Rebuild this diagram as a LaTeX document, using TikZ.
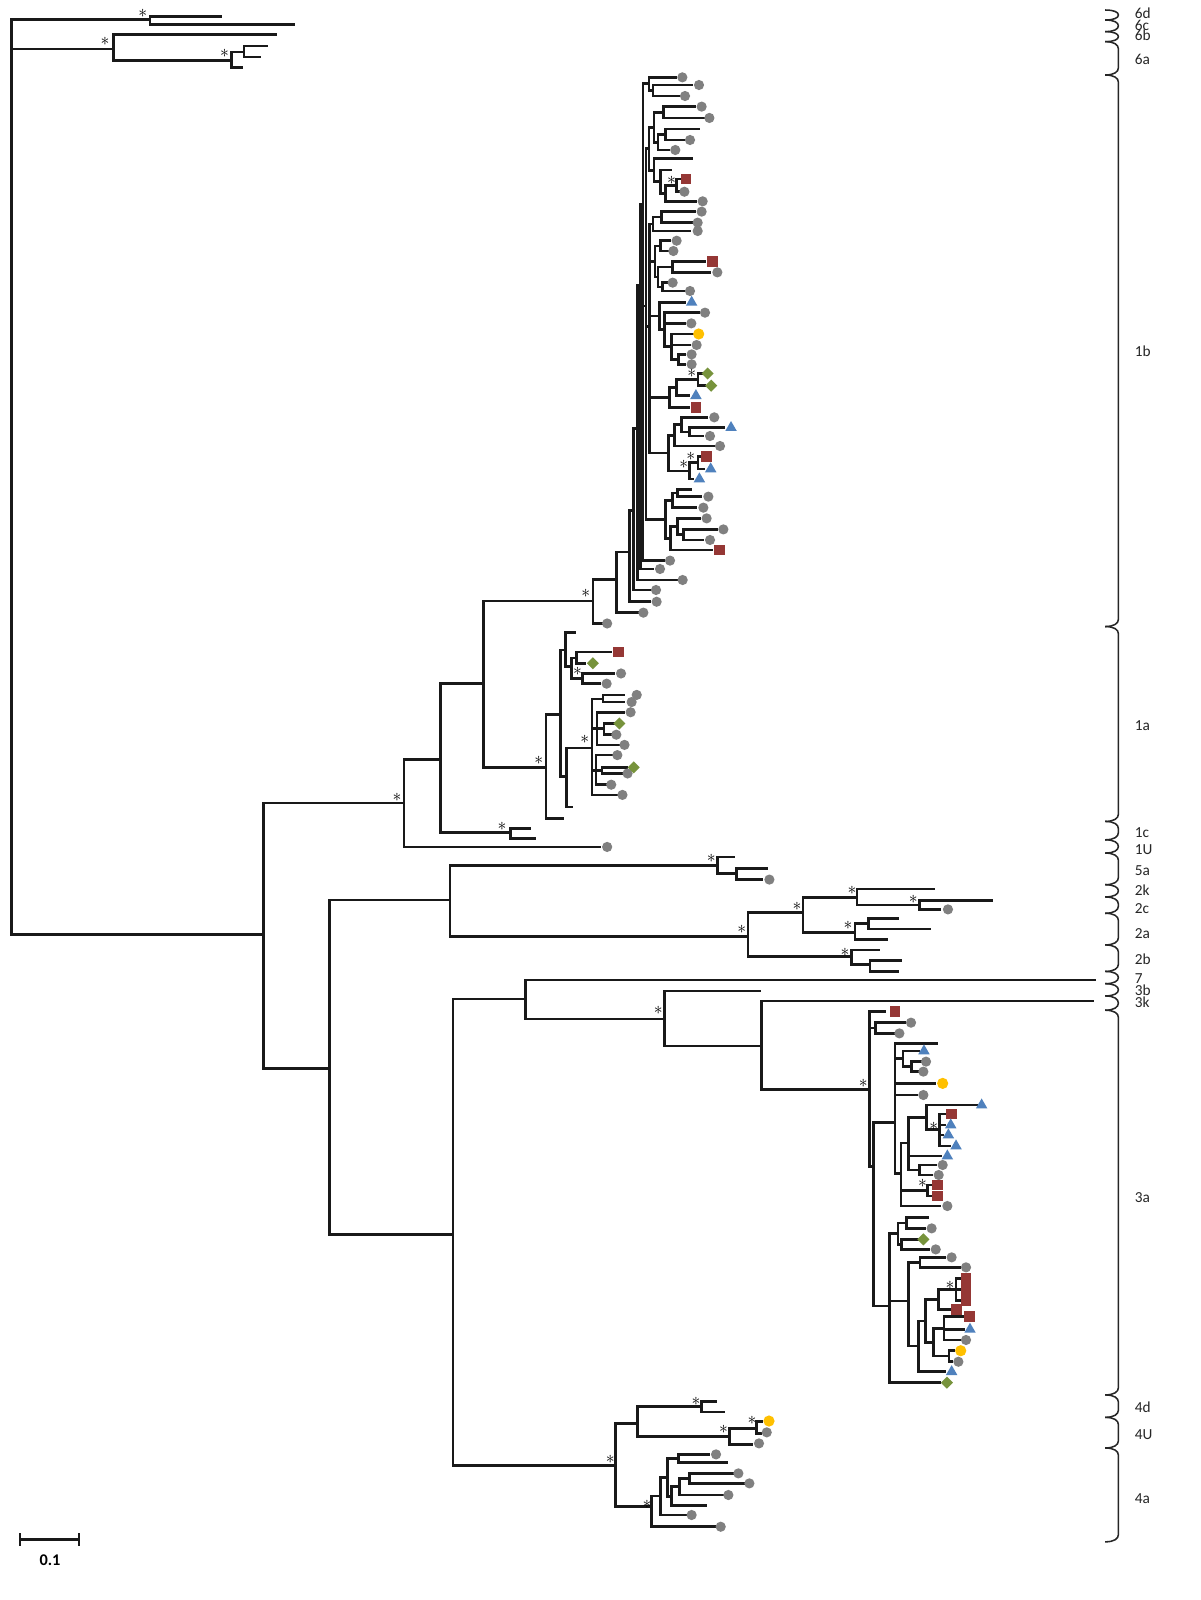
\documentclass[tikz,border=0pt]{standalone}
\usepackage{fontspec}
\setmainfont{Carlito}
\usepackage{tikz}
\usetikzlibrary{shapes.geometric}
\definecolor{treeline} {RGB}{25,  25,  25}
\definecolor{symgrey}  {RGB}{128, 128, 128}
\definecolor{symred}   {RGB}{149,  55,  53}
\definecolor{symblue}  {RGB}{ 79, 129, 189}
\definecolor{symgreen} {RGB}{119, 147,  60}
\definecolor{symyellow}{RGB}{255, 192,   0}
\tikzset{
  branch/.style={line width=2.6pt, draw=treeline, line cap=rect},
  bracket/.style={line width=1.5pt, draw=black!85},
  greydot/.style={circle, fill=symgrey, minimum size=10pt, inner sep=0pt},
  yellowdot/.style={circle, fill=symyellow, minimum size=11pt, inner sep=0pt},
  redsq/.style={rectangle, fill=symred, minimum size=10.5pt, inner sep=0pt},
  bluetri/.style={regular polygon, regular polygon sides=3, fill=symblue,
    minimum size=13pt, inner sep=0pt},
  greendia/.style={diamond, fill=symgreen, minimum size=12pt, inner sep=0pt},
  boot/.style={inner sep=0pt, font=\fontsize{18}{18}\selectfont},
  cladelab/.style={anchor=west, inner sep=0pt, text=black!85,
    font=\fontsize{15}{15}\selectfont},
}

\begin{document}
\begin{tikzpicture}[x=1pt, y=-1pt]
\fill[white] (0,0) rectangle (1176,1568);
\useasboundingbox (0,0) rectangle (1176,1568);

% ── Genotype 6 and root ───────────────────────────────────────────────────────
\foreach \x/\ya/\yb in {11/19/916, 147/16/24, 111/34/59, 227/51/66, 239/45/56}
  \draw[branch] (\x,\ya) -- (\x,\yb);
\foreach \y/\xa/\xb in {19/11/147, 16/147/216, 24/147/288, 48/11/111, 34/111/270,
    59/111/227, 51/227/239, 45/239/261, 56/239/254, 66/227/237}
  \draw[branch] (\xa,\y) -- (\xb,\y);

% ── Backbone ──────────────────────────────────────────────────────────────────
\foreach \x/\ya/\yb in {258/787/1047, 396/744/830, 432/670/816, 474/589/752,
    323/882/1210, 441/848/918, 444/979/1436}
  \draw[branch] (\x,\ya) -- (\x,\yb);
\foreach \y/\xa/\xb in {916/11/258, 787/258/396, 744/396/432, 670/432/474,
    1047/258/323, 882/323/441, 1210/323/444}
  \draw[branch] (\xa,\y) -- (\xb,\y);

% ── 1c and 1U ─────────────────────────────────────────────────────────────────
\draw[branch] (500,812) -- (500,822);
\foreach \y/\xa/\xb in {816/432/500, 812/500/519, 822/500/524, 830/396/588}
  \draw[branch] (\xa,\y) -- (\xb,\y);

% ── 1a ────────────────────────────────────────────────────────────────────────
\foreach \x/\ya/\yb in {535/700/802, 549/637/761, 554/620/653, 560/645/665,
    565/639/650, 571/660/670, 555/733/791, 580/685/779, 591/681/688,
    585/698/730, 592/709/720, 584/740/769, 590/752/758}
  \draw[branch] (\x,\ya) -- (\x,\yb);
\foreach \y/\xa/\xb in {752/474/535, 802/535/551, 700/535/549, 637/549/554,
    620/554/563, 653/554/560, 645/560/565, 639/565/598, 650/565/573,
    665/560/571, 660/571/601, 670/571/588, 761/549/555, 791/555/560,
    733/555/580, 685/580/591, 681/591/611, 688/591/611, 714/580/592,
    698/585/611, 730/585/606, 709/592/601, 720/592/598, 755/580/590,
    740/584/599, 769/584/594, 752/590/614, 758/590/609, 779/580/604}
  \draw[branch] (\xa,\y) -- (\xb,\y);

% ── 1b ────────────────────────────────────────────────────────────────────────
\foreach \x/\ya/\yb in {581/568/611, 604/541/600.4, 617/500/589.7,
    621/420/578.2, 625/280/568.4, 627.5/200/557.6, 630/82/549.4,
    636/75.8/88.7, 640/83.3/94.1, 633/145.6/509, 636/124.7/166.8,
    641/110/139.4, 650/104.5/115.6, 645/131.8/147, 652/126.4/137.2,
    641/155.5/178, 647/166.6/189.5, 652/181.6/197.3, 663/175.4/187.9,
    636.5/219.6/444, 640/212.8/226.4, 648/207.4/218.2,
    642/241/271.3, 647/235.9/246, 645/261.5/281.1, 659/256.1/266.9,
    649/277/285.2, 646/296.3/323, 651/306.4/339.7, 658/327.3/352.2,
    665/347.3/357, 656/380/399.2, 663/372/387.8, 684/366/378,
    655/426.5/461.5, 661/416/437.1, 668/409/423.2, 676/419.1/427.3,
    676/453.5/469.4, 684/447.5/459.6, 652/490.3/527.5, 659/483.2/497.5,
    664/479.6/486.7, 657/516/539, 664/508/524, 670/518.8/529.2}
  \draw[branch] (\x,\ya) -- (\x,\yb);
\foreach \y/\xa/\xb in {589/474/581, 568/581/604, 611/581/590, 541/604/617,
    600.4/604/625, 500/617/621, 589.7/617/637, 420/621/625, 578.2/621/637,
    280/625/627.5, 568.4/625/663, 200/627.5/630, 557.6/627.5/640,
    82/630/636, 300/630/633, 549.4/630/650,
    75.8/636/662.5, 88.7/636/640, 83.3/640/677.8, 94.1/640/664.8,
    145.6/633/636, 320/633/636.5, 509/633/652, 124.7/636/641, 166.8/636/641,
    110/641/650, 139.4/641/645, 104.5/650/681, 115.6/650/689.3,
    131.8/645/652, 147/645/655, 126.4/652/685, 137.2/652/669.7,
    155.5/641/677.8, 178/641/647, 166.6/647/657.6, 189.5/647/652,
    181.6/652/663, 197.3/652/682, 175.4/663/666, 187.9/663/665,
    219.6/636.5/640, 256/636.5/642, 309.6/636.5/646, 389.6/636.5/656,
    444/636.5/655, 212.8/640/648, 226.4/640/676.2, 207.4/648/681,
    218.2/648/677.8, 241/642/647, 271.3/642/645, 235.9/647/656.6,
    246/647/654.3, 261.5/645/659, 281.1/645/649, 256.1/659/690.9,
    266.9/659/695.8, 277/649/653.3, 285.2/649/669.7,
    296.3/646/671.3, 323/646/651, 306.4/651/684.4, 316.9/651/671.3,
    339.7/651/658, 327.3/658/678.5, 338.1/658/676.2, 352.2/658/665,
    347.3/665/671.3, 357/665/671.3, 380/656/663, 399.2/656/675,
    372/663/684, 387.8/663/675, 366/684/689, 378/684/691,
    426.5/655/661, 461.5/655/676, 416/661/668, 437.1/661/699,
    409/668/693, 423.2/668/676, 419.1/676/709, 427.3/676/689,
    453.5/676/684, 469.4/676/679, 447.5/684/687, 459.6/684/690,
    490.3/652/659, 527.5/652/657, 483.2/659/664, 497.5/659/682,
    479.6/664/676.9, 486.7/664/687, 516/657/664, 539/657/697,
    508/664/686, 524/664/670, 518.8/670/702, 529.2/670/689}
  \draw[branch] (\xa,\y) -- (\xb,\y);

% ── 5a and genotype 2 ─────────────────────────────────────────────────────────
\foreach \x/\ya/\yb in {703/840/856, 722/851/862, 733/894.5/937.5,
    787/879.4/914, 840/871.2/887, 901/882.7/891.2, 838/905/921,
    851/900/910.5, 834.5/931/945, 852.5/941/952}
  \draw[branch] (\x,\ya) -- (\x,\yb);
\foreach \y/\xa/\xb in {848/441/703, 840/703/719, 856/703/722, 851/722/751,
    862/722/746, 918/441/733, 894.5/733/787, 879.4/787/840, 871.2/840/915,
    887/840/901, 882.7/901/971.4, 891.2/901/921, 914/787/838, 905/838/851,
    900/851/879.5, 910.5/851/910.6, 921/838/869, 937.5/733/834.5,
    931/834.5/861, 945/834.5/852.5, 941/852.5/883, 952/852.5/880}
  \draw[branch] (\xa,\y) -- (\xb,\y);

% ── 7, 3b, 3k ─────────────────────────────────────────────────────────────────
\foreach \x/\ya/\yb in {515/960.4/998.5, 651/971/1025, 746/981/1068}
  \draw[branch] (\x,\ya) -- (\x,\yb);
\foreach \y/\xa/\xb in {979/444/515, 960.4/515/1073, 998.5/515/651,
    971/651/744, 1025/651/746, 981/746/1071, 1068/746/852}
  \draw[branch] (\xa,\y) -- (\xb,\y);

% ── 3a ────────────────────────────────────────────────────────────────────────
\foreach \x/\ya/\yb in {852/991.4/1143.4, 858/1002.2/1012.7, 856/1100/1280,
    877/1022.5/1150, 885/1030/1045.3, 893/1040.4/1050.2, 883/1120/1181.9,
    890/1095/1146.6, 908/1083/1107, 921/1091.7/1123.1, 901/1141.7/1151.5,
    909/1161.3/1172.1, 872/1209/1355, 880/1198.4/1219.5, 888.5/1193/1203.8,
    883.6/1214.6/1224.4, 890/1237.1/1319, 901.6/1232.2/1242,
    900/1294.5/1344.3, 907/1273.5/1315.5, 920/1263.7/1283.2,
    937/1252.8/1274.7, 915/1302/1329, 925/1290.3/1313.2, 930/1323.7/1334.5}
  \draw[branch] (\x,\ya) -- (\x,\yb);
\foreach \y/\xa/\xb in {991.4/852/867, 1007.5/852/858, 1143.4/852/856,
    1002.2/858/887, 1012.7/858/875.5, 1100/856/877, 1280/856/872,
    1022.5/877/918, 1037/877/885, 1061.7/877/916, 1073.1/877/898,
    1150/877/883, 1030/885/900, 1045.3/885/893, 1040.4/893/902,
    1050.2/893/899, 1120/883/890, 1166.7/883/909, 1181.9/883/921,
    1095/890/908, 1132.9/890/922, 1146.6/890/901, 1083/908/957,
    1107/908/921, 1091.7/921/926, 1102.5/921/926, 1112.3/921/924,
    1123.1/921/931, 1141.7/901/917, 1151.5/901/913, 1161.3/909/912,
    1172.1/909/912, 1209/872/880, 1275/872/890, 1355/872/921,
    1198.4/880/888.5, 1219.5/880/883.6, 1193/888.5/908.8,
    1203.8/888.5/906, 1214.6/883.6/899, 1224.4/883.6/910,
    1237.1/890/901.6, 1319/890/900, 1232.2/901.6/926, 1242/901.6/940,
    1294.5/900/907, 1344.3/900/926, 1273.5/907/920, 1315.5/907/915,
    1263.7/920/937, 1283.2/920/931, 1252.8/937/940, 1263.6/937/940,
    1274.7/937/940, 1302/915/925, 1329/915/930, 1290.3/925/943,
    1302.8/925/944, 1313.2/925/940, 1323.7/930/935, 1334.5/930/933}
  \draw[branch] (\xa,\y) -- (\xb,\y);

% ── Genotype 4 ────────────────────────────────────────────────────────────────
\foreach \x/\ya/\yb in {603.4/1395/1476.5, 624.6/1378.5/1408,
    687.6/1373.3/1383.8, 714.8/1399.8/1415.5, 741.6/1393.2/1404.7,
    638.6/1466/1496.2, 665/1425.3/1433.1, 676/1443.9/1453.7,
    666/1448.8/1465.1, 658/1457/1475.6, 654/1429.2/1466.3, 647/1447.7/1484.7}
  \draw[branch] (\x,\ya) -- (\x,\yb);
\foreach \y/\xa/\xb in {1436/444/603.4, 1395/603.4/624.6, 1378.5/624.6/687.6,
    1373.3/687.6/701.7, 1383.8/687.6/708.9, 1408/624.6/714.8,
    1399.8/714.8/741.6, 1393.2/741.6/746, 1404.7/741.6/745,
    1415.5/714.8/736.6, 1476.5/603.4/638.6, 1466/638.6/647,
    1496.2/638.6/700.7, 1447.7/647/654, 1484.7/647/672.3, 1429.2/654/665,
    1466.3/654/658, 1425.3/665/694.2, 1433.1/665/712.1, 1457/658/666,
    1475.6/658/691.9, 1448.8/666/676, 1465.1/666/708.2, 1443.9/676/718,
    1453.7/676/728.5}
  \draw[branch] (\xa,\y) -- (\xb,\y);

% ── Leaf markers ──────────────────────────────────────────────────────────────
\foreach \x/\y [count=\i] in {595/830, 624/681, 619/688, 618/698, 604/720,
    612/730, 605/740, 615/758, 599/769, 610/779, 608.6/660, 594.5/670,
    668.7/75.8, 685/83.3, 671.3/94.1, 687.6/104.5, 695.2/115.6, 676.2/137.2,
    661.8/147, 670.7/187.9, 688.6/197.3, 687.6/207.4, 683.7/218.2,
    683.7/226.4, 663.1/235.9, 659.9/246, 703/266.9, 659.2/277, 676.2/285.2,
    690.9/306.4, 677.5/316.9, 682.7/338.1, 677.8/347.3, 677.8/357,
    700/409, 695.8/427.3, 705.6/437.1, 694.2/486.7, 689.3/497.5,
    692.5/508, 708.9/518.8, 695.8/529.2, 656.6/549.4, 646.8/557.6,
    669/568.4, 642.9/578.2, 643.5/589.7, 630.5/600.4, 595/611,
    754/862, 929/891.2,
    892.8/1002.2, 881.4/1012.7, 907.5/1040.4, 904.9/1050.2, 904.9/1073.1,
    923.8/1141.7, 919.9/1151.5, 928.4/1181.9, 913/1203.8, 917/1224.4,
    932.6/1232.2, 946.7/1242, 946.7/1313.2, 939.2/1334.5,
    751.4/1403.7, 743.8/1414.5, 701.7/1425.3, 723.6/1443.9, 734.4/1453.7,
    713.8/1465.1, 677.8/1484.7, 706.3/1496.2}
  \node[greydot] (gd\i) at (\x,\y) {};
\foreach \x/\y [count=\i] in {606/639, 672.3/175.4, 698.1/256.1, 682/399.2,
    692.5/447.5, 705/539, 877/991.4, 932.6/1091.7, 918.6/1161.3,
    918.6/1172.1, 946.7/1252.8, 946.7/1263.6, 946.7/1274.7, 937.5/1283.2,
    950/1290.3}
  \node[redsq] (rs\i) at (\x,\y) {};
\foreach \x/\y [count=\i] in {677.8/296.3, 682/387.8, 716.4/419.1,
    696.5/459.6, 685.4/469.4, 905.5/1030, 962/1083, 931.7/1102.5,
    929.4/1112.3, 936.9/1123.1, 928.4/1132.9, 950.6/1302.8, 932.6/1344.3}
  \node[bluetri] (bt\i) at (\x,\y) {};
\foreach \x/\y [count=\i] in {581/650, 607/709, 621/752, 693.5/366, 697/378,
    904.9/1214.6, 928/1355}
  \node[greendia] (gn\i) at (\x,\y) {};
\foreach \x/\y [count=\i] in {684.7/327.3, 923.8/1061.7, 941.5/1323.7,
    753.6/1392.6}
  \node[yellowdot] (yd\i) at (\x,\y) {};

% ── Bootstrap asterisks ───────────────────────────────────────────────────────
\foreach \x/\y [count=\i] in {140/13, 103/41, 220/52, 389/781, 573/725,
    528/745, 566/658, 492/810, 574/582, 658/177, 678/366, 677/447, 670/455,
    697/841, 727/911, 781/888, 835/873, 895/881, 831/907, 828/933, 645/990,
    846/1062, 915/1104, 904/1160, 931/1260, 598/1430, 682/1373, 709/1401,
    737/1392, 634/1474}
  \node[boot] (bs\i) at (\x,\y) {$\ast$};

% ── Clade brackets and labels ─────────────────────────────────────────────────
\foreach \ya/\yb in {9.8/19.6, 19.6/31, 31/40.8, 40.8/73.5, 73.5/614,
    614/805, 805/823, 823/836, 836/867, 867/879, 879/895, 895/926, 926/952,
    952/964, 964/976, 976/990, 990/1367, 1367/1389, 1389/1419, 1419/1511}{
  \pgfmathsetmacro{\bend}{min(7,(\yb-\ya)/2)}
  \draw[bracket] (1083,\ya) .. controls (1092,\ya) and (1096,{\ya+\bend*0.45})
    .. (1096,{\ya+\bend}) -- (1096,{\yb-\bend})
    .. controls (1096,{\yb-\bend*0.45}) and (1092,\yb) .. (1083,\yb);
}
\foreach \lab/\y in {6d/13, 6c/24.5, 6b/35, 6a/58, 1b/344, 1a/711, 1c/816,
    1U/833, 5a/853, 2k/872, 2c/890, 2a/915, 2b/940, 7/959, 3b/970, 3k/982,
    3a/1174, 4d/1379.5, 4U/1406, 4a/1469}
  \node[cladelab] (lab\lab) at (1112,\y) {\lab};

% ── Scale bar ─────────────────────────────────────────────────────────────────
\draw[branch, line cap=butt] (19.6,1509) -- (77.4,1509);
\draw[branch, line cap=butt] (19.6,1502.5) -- (19.6,1515.5);
\draw[branch, line cap=butt] (77.4,1502.5) -- (77.4,1515.5);
\node[inner sep=0pt, font=\fontsize{16}{16}\selectfont\bfseries] (scalelab)
  at (49,1529) {0.1};

\end{tikzpicture}
\end{document}
